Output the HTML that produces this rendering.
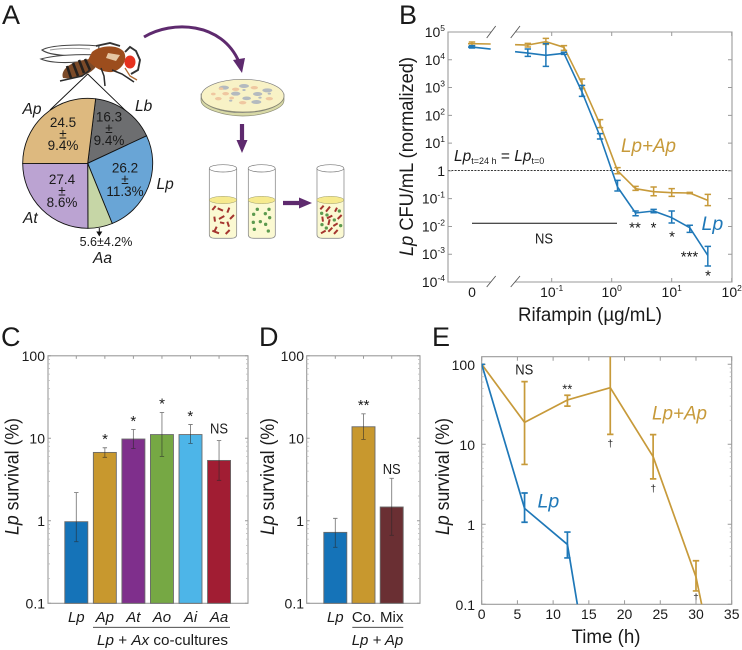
<!DOCTYPE html>
<html lang="en">
<head>
<meta charset="utf-8">
<title>Lp survival figure</title>
<style>
html,body{margin:0;padding:0;background:#fff;width:742px;height:650px;overflow:hidden}
svg{display:block}
text{font-family:"Liberation Sans",sans-serif;fill:#1a1a1a}
.i{font-style:italic}
</style>
</head>
<body>
<svg id="fig" width="742" height="650" viewBox="0 0 742 650" xmlns="http://www.w3.org/2000/svg">
<defs>
<clipPath id="clipE"><rect x="481.7" y="356.7" width="250" height="247.6"/></clipPath>
</defs>

<!-- panel letters -->
<text x="2" y="24" font-size="27">A</text>
<text x="399" y="24" font-size="27">B</text>
<text x="1" y="346" font-size="27">C</text>
<text x="259" y="346" font-size="27">D</text>
<text x="432" y="346" font-size="27">E</text>

<!-- Panel A illustration -->
<g id="panelA">
  <g>
    <path d="M42 50C50 45 80 44 99 46L98 54C75 57 50 56 42 50Z" fill="#fff" stroke="#444" stroke-width="1.1"/>
    <path d="M50 50C62 48 76 48 90 49" fill="none" stroke="#999" stroke-width="1"/>
    <path d="M41 59C55 55 80 54 97 55L92 60C70 64 50 63 41 59Z" fill="#fff" stroke="#444" stroke-width="1.1"/>
    <path d="M63 78C60 70 70 61 90 59L96 66C94 72 78 80 63 78Z" fill="#7b4a28"/>
    <path d="M67 66L71 78M73 63L78 76M79 60L84 73M85 59L90 70" stroke="#26201c" stroke-width="2.6" fill="none"/>
    <path d="M92 52C100 45 118 44 124 52C128 60 122 70 112 72C102 73 92 66 88 60Z" fill="#9c4d1d"/>
    <path d="M108 53L120 55L116 61L106 58Z" fill="#e6c6a2"/>
    <path d="M96 46L110 43L120 46M125 52L130 47L136 51L140 60L138 70L131 74" stroke="#333" stroke-width="1.9" fill="none"/>
    <ellipse cx="130" cy="62" rx="5.5" ry="6.5" fill="#e5321f"/>
    <path d="M101 68L104 76L105 86M90 70L82 76L60 81M112 70L122 74L134 82" stroke="#2a2a2a" stroke-width="1.5" fill="none"/>
    <path d="M125 68L130 76L137 80" stroke="#b06a30" stroke-width="1.3" fill="none"/>
  </g>
  <path d="M87.7 74L50 110" stroke="#111" stroke-width=".9" fill="none"/>
  <path d="M87.7 74L126.7 111.7" stroke="#111" stroke-width=".9" fill="none"/>
  <g id="pieGroup"></g>

  <g font-size="13.5" text-anchor="middle">
    <text x="109" y="121.5">16.3</text>
    <text x="109" y="133">±</text>
    <text x="109" y="145">9.4%</text>
    <text x="63" y="127">24.5</text>
    <text x="63" y="138.5">±</text>
    <text x="63" y="150">9.4%</text>
    <text x="125" y="172.5">26.2</text>
    <text x="125" y="184">±</text>
    <text x="125" y="196">11.3%</text>
    <text x="62" y="184">27.4</text>
    <text x="62" y="195.5">±</text>
    <text x="62" y="207">8.6%</text>
    <text x="106" y="246" font-size="12.5">5.6±4.2%</text>
  </g>
  <g class="i" font-size="15.5" font-style="italic">
    <text x="22.5" y="114">Ap</text>
    <text x="135" y="111">Lb</text>
    <text x="156.5" y="189">Lp</text>
    <text x="23" y="223">At</text>
    <text x="93" y="263">Aa</text>
  </g>
  <path d="M99.3 228V233" stroke="#111" stroke-width="1"/>
  <path d="M96.3 231.5H102.3L99.3 236.5Z" fill="#111"/>

  <!-- arrows -->
  <g>
    <path d="M144 37C172 20 222 22 239 62" fill="none" stroke="#5e2a6e" stroke-width="3"/>
    <path d="M233 60L245 58L242 73Z" fill="#5e2a6e"/>
    <path d="M242 124V143" stroke="#5e2a6e" stroke-width="4.2" fill="none"/>
    <path d="M236.5 140H247.5L242 153Z" fill="#5e2a6e"/>
    <path d="M283 203H302" stroke="#5e2a6e" stroke-width="4.2" fill="none"/>
    <path d="M299 197.5V208.5L312 203Z" fill="#5e2a6e"/>
  </g>

  <!-- dish -->
  <g transform="translate(195 70) scale(.3333)">
    <path d="M18 72V92C20 118 90 138 143 138C200 138 266 118 267 92V72Z" fill="#d8d9a6" stroke="#8a8a72" stroke-width="2"/>
    <ellipse cx="143" cy="78" rx="124" ry="50" fill="#f8f2c6" stroke="#7c7c7c" stroke-width="2"/>
    <path d="M18 84C30 112 90 126 143 126C200 126 255 112 267 84" fill="none" stroke="#8a8a72" stroke-width="2"/>
    <g fill="#b4babf">
      <ellipse cx="87" cy="53" rx="15" ry="6"/>
      <ellipse cx="147" cy="48" rx="15" ry="6"/>
      <ellipse cx="217" cy="61" rx="15" ry="6"/>
      <ellipse cx="122" cy="71" rx="14" ry="6"/>
      <ellipse cx="188" cy="72" rx="14" ry="6"/>
      <ellipse cx="155" cy="85" rx="13" ry="5.5"/>
      <ellipse cx="184" cy="96" rx="15" ry="6"/>
      <ellipse cx="147" cy="60" rx="5" ry="3"/>
      <ellipse cx="195" cy="83" rx="5" ry="3"/>
      <ellipse cx="107" cy="92" rx="5" ry="3"/>
      <ellipse cx="223" cy="71" rx="5" ry="3"/>
    </g>
    <g fill="#efc7a0">
      <ellipse cx="78" cy="56" rx="7" ry="4"/>
      <ellipse cx="122" cy="58" rx="11" ry="5"/>
      <ellipse cx="178" cy="53" rx="11" ry="5"/>
      <ellipse cx="92" cy="71" rx="10" ry="5"/>
      <ellipse cx="55" cy="72" rx="7" ry="4"/>
      <ellipse cx="70" cy="86" rx="10" ry="5"/>
      <ellipse cx="143" cy="98" rx="11" ry="5"/>
      <ellipse cx="223" cy="86" rx="11" ry="5"/>
      <ellipse cx="110" cy="84" rx="7" ry="4"/>
    </g>
  </g>

  <!-- tubes -->
  <g transform="translate(195 70) scale(.3333)">
    <g>
      <path d="M43 392V494C43 503 50 505 60 505H108C118 505 125 503 125 494V392Z" fill="#fbf9d2"/>
      <path d="M43 296V494C43 503 50 505 60 505H108C118 505 125 503 125 494V296" fill="none" stroke="#8e8e8e" stroke-width="2.4"/>
      <ellipse cx="84" cy="295" rx="41" ry="11" fill="#fff" stroke="#777" stroke-width="2"/>
      <ellipse cx="84" cy="390" rx="41" ry="11" fill="#f6ea8e" stroke="#9a9a6a" stroke-width="1.5"/>
      <path d="M52 420L62 408M68 415L84 422M97 428L103 413M105 447L117 435M58 440L60 455M72 447L88 438M75 457L88 460M97 455L102 470M65 470L57 487M52 482L72 490M92 492L104 480" stroke="#a5352f" stroke-width="6" fill="none"/>
    </g>
    <g>
      <path d="M160 392V494C160 503 167 505 177 505H224C234 505 241 503 241 494V392Z" fill="#fbf9d2"/>
      <path d="M160 296V494C160 503 167 505 177 505H224C234 505 241 503 241 494V296" fill="none" stroke="#8e8e8e" stroke-width="2.4"/>
      <ellipse cx="200" cy="295" rx="40.5" ry="11" fill="#fff" stroke="#777" stroke-width="2"/>
      <ellipse cx="200" cy="390" rx="40.5" ry="11" fill="#f6ea8e" stroke="#9a9a6a" stroke-width="1.5"/>
      <g fill="#5c9a4f">
        <circle cx="187" cy="418" r="5"/>
        <circle cx="222" cy="418" r="5"/>
        <circle cx="176" cy="433" r="5"/>
        <circle cx="211" cy="431" r="5"/>
        <circle cx="224" cy="443" r="5"/>
        <circle cx="175" cy="457" r="5"/>
        <circle cx="196" cy="455" r="5"/>
        <circle cx="212" cy="463" r="5"/>
        <circle cx="178" cy="478" r="5"/>
        <circle cx="220" cy="483" r="5"/>
      </g>
    </g>
    <g>
      <path d="M366 392V494C366 503 373 505 383 505H430C440 505 447 503 447 494V392Z" fill="#fbf9d2"/>
      <path d="M366 296V494C366 503 373 505 383 505H430C440 505 447 503 447 494V296" fill="none" stroke="#8e8e8e" stroke-width="2.4"/>
      <ellipse cx="406" cy="295" rx="40.5" ry="11" fill="#fff" stroke="#777" stroke-width="2"/>
      <ellipse cx="406" cy="390" rx="40.5" ry="11" fill="#f6ea8e" stroke="#9a9a6a" stroke-width="1.5"/>
      <path d="M376 418L386 407M393 425L405 410M420 425L426 413M428 447L440 435M382 440L384 455M396 445L412 437M404 448L400 465M415 468L428 460M400 485L412 473M378 490L392 482M417 492L428 480" stroke="#a5352f" stroke-width="6" fill="none"/>
      <g fill="#5c9a4f">
        <circle cx="380" cy="430" r="5"/>
        <circle cx="396" cy="435" r="5"/>
        <circle cx="418" cy="450" r="5"/>
        <circle cx="433" cy="423" r="5"/>
        <circle cx="381" cy="464" r="5"/>
        <circle cx="394" cy="474" r="5"/>
        <circle cx="437" cy="467" r="5"/>
      </g>
    </g>
  </g>
</g>

<!-- Panel B frame -->
<g id="panelB">
  <path d="M491 32H448V282H491" fill="none" stroke="#9a9a9a" stroke-width="1.1"/>
  <path d="M515 32H732V282H515" fill="none" stroke="#9a9a9a" stroke-width="1.1"/>
  <path d="M486.7 38L495.7 26M510.7 38L520 26" stroke="#555" stroke-width=".9" fill="none"/>
  <path d="M486.7 287L495.7 276M510.7 287L520 276" stroke="#555" stroke-width=".9" fill="none"/>
  <text transform="translate(413 156.5) rotate(-90)" text-anchor="middle" font-size="19" textLength="199" lengthAdjust="spacingAndGlyphs"><tspan font-style="italic">Lp</tspan> CFU/mL (normalized)</text>
  <text x="590" y="321" text-anchor="middle" font-size="19" textLength="144" lengthAdjust="spacingAndGlyphs">Rifampin (µg/mL)</text>
  <path d="M448 170.5H732" stroke="#333" stroke-width=".9" stroke-dasharray="2 1.3" fill="none"/>
  <text x="454" y="161" font-size="15.5"><tspan font-style="italic">Lp</tspan><tspan font-size="9" dy="3">t=24 h</tspan><tspan dy="-3"> = </tspan><tspan font-style="italic">Lp</tspan><tspan font-size="9" dy="3">t=0</tspan></text>
  <text x="621" y="152" font-size="19.5" font-style="italic" style="fill:#c79a3a" textLength="55" lengthAdjust="spacingAndGlyphs">Lp+Ap</text>
  <text x="701.5" y="230" font-size="19.5" font-style="italic" style="fill:#1f78b8">Lp</text>
  <path d="M472 223.3H617" stroke="#111" stroke-width="1" fill="none"/>
  <text x="544" y="243.5" text-anchor="middle" font-size="15" textLength="18" lengthAdjust="spacingAndGlyphs">NS</text>
  <g text-anchor="middle" font-size="15">
    <text x="635" y="232.5">**</text>
    <text x="653.5" y="232.5">*</text>
    <text x="672" y="241.5">*</text>
    <text x="689.5" y="261.5">***</text>
    <text x="708" y="280.5">*</text>
  </g>
</g>

<!-- Panel C static text -->
<g id="panelC">
  <text transform="translate(18.5 476.5) rotate(-90)" text-anchor="middle" font-size="19" textLength="117" lengthAdjust="spacingAndGlyphs"><tspan font-style="italic">Lp</tspan> survival (%)</text>
  <path d="M93 627.3H230" stroke="#333" stroke-width=".9" fill="none"/>
  <text x="162.5" y="645" text-anchor="middle" font-size="15" textLength="131" lengthAdjust="spacingAndGlyphs"><tspan font-style="italic">Lp</tspan> + <tspan font-style="italic">Ax</tspan> co-cultures</text>
  <g text-anchor="middle" font-size="15">
    <text x="105" y="444">*</text>
    <text x="133.3" y="426">*</text>
    <text x="162" y="408.5">*</text>
    <text x="190.3" y="421">*</text>
    <text x="219" y="433.5" textLength="18" lengthAdjust="spacingAndGlyphs">NS</text>
  </g>
</g>

<!-- Panel D static text -->
<g id="panelD">
  <text transform="translate(274 476.5) rotate(-90)" text-anchor="middle" font-size="19" textLength="117" lengthAdjust="spacingAndGlyphs"><tspan font-style="italic">Lp</tspan> survival (%)</text>
  <path d="M352.3 627.3H403.3" stroke="#333" stroke-width=".9" fill="none"/>
  <text x="377.5" y="645" text-anchor="middle" font-size="15" font-style="italic">Lp + Ap</text>
  <text x="363.7" y="410" text-anchor="middle" font-size="15">**</text>
  <text x="391.7" y="474" text-anchor="middle" font-size="15" textLength="18" lengthAdjust="spacingAndGlyphs">NS</text>
</g>

<!-- Panel E static text -->
<g id="panelE">
  <text transform="translate(449 476.5) rotate(-90)" text-anchor="middle" font-size="19" textLength="117" lengthAdjust="spacingAndGlyphs"><tspan font-style="italic">Lp</tspan> survival (%)</text>
  <text x="606" y="643" text-anchor="middle" font-size="19" textLength="69" lengthAdjust="spacingAndGlyphs">Time (h)</text>
  <text x="652" y="419.5" font-size="19.5" font-style="italic" style="fill:#c79a3a" textLength="55" lengthAdjust="spacingAndGlyphs">Lp+Ap</text>
  <text x="537.5" y="507.5" font-size="19.5" font-style="italic" style="fill:#1f78b8">Lp</text>
  <text x="524.3" y="374.5" text-anchor="middle" font-size="15" textLength="18" lengthAdjust="spacingAndGlyphs">NS</text>
  <text x="567.3" y="393.5" text-anchor="middle" font-size="13">**</text>
  <text x="610.3" y="447" text-anchor="middle" font-size="10">†</text>
  <text x="653.3" y="492" text-anchor="middle" font-size="10">†</text>
  <text x="696" y="601" text-anchor="middle" font-size="10">†</text>
</g>

<script>
// ---- Panel A data: slice sizes as drawn (percent of circle)
const pieCategories = ['Lb', 'Lp', 'Aa', 'At', 'Ap'];
const pieShares = [16.1, 25.8, 6.1, 25.0, 27.0];

// ---- Panel B data
const bDoses = [0.04, 0.08, 0.16, 0.32, 0.64, 1.25, 2.5, 5, 10, 20, 40];
const bApValues = [34000, 44900, 28100, 1380, 47.4, 1.02, 0.229, 0.179, 0.164, 0.16, 0.087];
const bApHi = [39100, 59200, 32200, 2030, 69.8, 1.31, 0.278, 0.263, 0.229, 0.168, 0.143];
const bApLo = [28900, 36000, 21900, 912, 36, 0.79, 0.2, 0.128, 0.121, 0.152, 0.056];
const bLpValues = [17500, 14500, 17100, 692, 17.5, 0.263, 0.0305, 0.036, 0.0207, 0.00904, 0.00091];
const bLpHi = [24400, 38000, 18700, 1200, 21.9, 0.457, 0.036, 0.0413, 0.036, 0.011, 0.00192];
const bLpLo = [13300, 5800, 15700, 483, 14.1, 0.189, 0.0244, 0.0313, 0.0133, 0.00614, 0.000377];
const bLeadDose = 0.0245;
const bApLead = 35000;
const bLpLead = 19600;
const bApZero = [38000, 43700, 31300, 37000]; // value, hi, lo, value at axis break
const bLpZero = [28800, 32200, 26500, 24400];
const bYTickExponents = [5, 4, 3, 2, 1, 0, -1, -2, -3, -4];
const bXTickExponents = [-1, 0, 1, 2];

// ---- Panel C data
const cCategories = ['Lp', 'Ap', 'At', 'Ao', 'Ai', 'Aa'];
const cValues = [0.975, 6.74, 9.8, 11.1, 11.1, 5.39];
const cHi = [2.2, 7.68, 12.8, 20.6, 14.7, 9.4];
const cLo = [0.558, 5.87, 7.5, 6.03, 8.67, 3.09];

// ---- Panel D data
const dCategories = ['Lp', 'Co.', 'Mix'];
const dValues = [0.724, 13.8, 1.47];
const dHi = [1.07, 19.8, 3.27];
const dLo = [0.477, 9.7, 0.667];

// ---- log axis ticks shared by C, D, E
const survivalTicks = [0.1, 1, 10, 100];
const survivalTickLabels = ['0.1', '1', '10', '100'];

// ---- Panel E data
const eApHours = [0, 6, 12, 18, 24, 30, 32];
const eApValues = [100, 18.8, 35.8, 51, 7, 0.22, 0.03];
const eApErrHours = [0, 6, 12, 18, 24, 30];
const eApHi = [100, 60.7, 41, 200, 13.2, 0.35];
const eApLo = [100, 5.6, 30, 13.3, 3.7, 0.147];
const eLpHours = [0, 6, 12, 14];
const eLpValues = [100, 1.58, 0.56, 0.047];
const eLpErrHours = [0, 6, 12];
const eLpHi = [100, 2.46, 0.8];
const eLpLo = [100, 1.06, 0.38];
const eXTicks = [0, 5, 10, 15, 20, 25, 30, 35];

const NS = 'http://www.w3.org/2000/svg';
const GOLD = '#c79a3a';
const BLUE = '#1f78b8';
const AXIS = '#9a9a9a';

function mk(tag, attrs, parent, txt) {
  const n = document.createElementNS(NS, tag);
  for (const k in attrs) n.setAttribute(k, attrs[k]);
  if (txt !== undefined) n.textContent = txt;
  parent.appendChild(n);
  return n;
}

function errorBar(parent, x, yHi, yLo, cap, color, width) {
  const d = 'M' + x + ' ' + yHi + 'V' + yLo + 'M' + (x - cap) + ' ' + yHi + 'H' + (x + cap) + 'M' + (x - cap) + ' ' + yLo + 'H' + (x + cap);
  const e = mk('path', { d: d, stroke: color, 'stroke-width': width, fill: 'none' }, parent);
  
  
  return e;
}

function polyline(parent, pts, color, width) {
  const l = mk('polyline', { points: pts.map(function (p) { return p[0] + ',' + p[1]; }).join(' '), fill: 'none', stroke: color, 'stroke-width': width, 'stroke-linejoin': 'round' }, parent);
  
  
  return l;
}

// ---------- Pie ----------
(function () {
  const g = document.getElementById('pieGroup');
  const cx = 87.7, cy = 163.3, r = 65;
  const fills = { Lb: '#6d6e70', Lp: '#69a5d6', Aa: '#c6d6a6', At: '#bba3d2', Ap: '#ddb97f' };
  const total = pieShares.reduce(function (a, b) { return a + b; }, 0);
  let ang = 7;
  pieCategories.forEach(function (c, i) {
    const sweep = pieShares[i] / total * 360;
    const a0 = ang * Math.PI / 180, a1 = (ang + sweep) * Math.PI / 180;
    const d = 'M' + cx + ' ' + cy + 'L' + (cx + r * Math.sin(a0)) + ' ' + (cy - r * Math.cos(a0)) +
      'A' + r + ' ' + r + ' 0 ' + (sweep > 180 ? 1 : 0) + ' 1 ' + (cx + r * Math.sin(a1)) + ' ' + (cy - r * Math.cos(a1)) + 'Z';
    const s = mk('path', { d: d, fill: fills[c], stroke: '#111', 'stroke-width': 0.9 }, g);
    
    
    ang += sweep;
  });
})();

// ---------- Panel B ----------
(function () {
  const g = document.getElementById('panelB');
  const bX = function (d) { return 611.7 + 60 * Math.log10(d); };
  const bYexp = function (e) { return 32 + (5 - e) * 27.78; };
  const bY = function (v) { return bYexp(Math.log10(v)); };
  const zeroX = 472, stubEnd = 490.7;

  bYTickExponents.forEach(function (e) {
    const y = bYexp(e);
    const t = mk('path', { d: 'M448 ' + y + 'h4M732 ' + y + 'h-4', stroke: AXIS, 'stroke-width': 1, fill: 'none' }, g);
    
    
    const lab = mk('text', { x: 445, y: y + 5, 'text-anchor': 'end', 'font-size': 14 }, g);
    
    
    if (e === 0) {
      lab.textContent = '1';
    } else {
      mk('tspan', {}, lab, '10');
      mk('tspan', { 'font-size': 8.5, dy: -6 }, lab, String(e));
    }
  });
  bXTickExponents.forEach(function (e) {
    const x = bX(Math.pow(10, e));
    const t = mk('path', { d: 'M' + x + ' 282v-4M' + x + ' 32v4', stroke: AXIS, 'stroke-width': 1, fill: 'none' }, g);
    
    
    const lab = mk('text', { x: x, y: 297, 'text-anchor': 'middle', 'font-size': 14 }, g);
    
    
    mk('tspan', {}, lab, '10');
    mk('tspan', { 'font-size': 8.5, dy: -6 }, lab, String(e));
  });
  const zeroLab = mk('text', { x: zeroX, y: 297, 'text-anchor': 'middle', 'font-size': 14 }, g, '0');
  
  

  [[bApValues, bApHi, bApLo, bApLead, bApZero, GOLD], [bLpValues, bLpHi, bLpLo, bLpLead, bLpZero, BLUE]].forEach(function (s) {
    const pts = [[bX(bLeadDose), bY(s[3])]].concat(bDoses.map(function (d, i) { return [bX(d), bY(s[0][i])]; }));
    polyline(g, pts, s[5], 1.6);
    bDoses.forEach(function (d, i) { errorBar(g, bX(d), bY(s[1][i]), bY(s[2][i]), 3.2, s[5], 1.5); });
    polyline(g, [[zeroX - 4, bY(s[4][0])], [zeroX, bY(s[4][0])], [stubEnd, bY(s[4][3])]], s[5], 1.6);
    errorBar(g, zeroX, bY(s[4][1]), bY(s[4][2]), 3.2, s[5], 1.5);
  });
})();

// ---------- Bar panels ----------
function barPanel(gid, left, right, firstCenter, step, cats, vals, hi, lo, fills, labelRight) {
  const g = document.getElementById(gid);
  const top = 355.8, bottom = 603.3, dec = (bottom - top) / 3;
  const y = function (v) { return bottom - (Math.log10(v) + 1) * dec; };
  const frame = mk('rect', { x: left, y: top, width: right - left, height: bottom - top, fill: 'none', stroke: AXIS, 'stroke-width': 1.1 }, g);
  
  
  survivalTicks.forEach(function (t, i) {
    const ty = y(t);
    const tk = mk('path', { d: 'M' + left + ' ' + ty + 'h3M' + right + ' ' + ty + 'h-3', stroke: AXIS, 'stroke-width': 1, fill: 'none' }, g);
    
    
    const lab = mk('text', { x: labelRight, y: ty + 5, 'text-anchor': 'end', 'font-size': 14 }, g, survivalTickLabels[i]);
    
    
    if (t < 100) {
      for (let m = 2; m < 10; m++) {
        const my = y(t * m);
        const mn = mk('path', { d: 'M' + left + ' ' + my + 'h2M' + right + ' ' + my + 'h-2', stroke: '#bdbdbd', 'stroke-width': 0.8, fill: 'none' }, g);
        
        
      }
    }
  });
  cats.forEach(function (c, i) {
    const cx = firstCenter + i * step;
    const b = mk('rect', { x: cx - 11.5, y: y(vals[i]), width: 23, height: bottom - y(vals[i]), fill: fills[c], stroke: '#6a6a6a', 'stroke-width': 0.9 }, g);
    
    
    errorBar(g, cx, y(hi[i]), y(lo[i]), 2.2, 'rgba(40,40,40,.6)', 0.9);
    const tt = mk('path', { d: 'M' + cx + ' ' + top + 'v3', stroke: AXIS, 'stroke-width': 1, fill: 'none' }, g);
    
    
    const isItalic = c === 'Lp' || c.charAt(0) === 'A';
    const lab = mk('text', { x: cx, y: 622, 'text-anchor': 'middle', 'font-size': 15, 'font-style': isItalic ? 'italic' : 'normal' }, g, c);
    
    
  });
}
barPanel('panelC', 48, 248, 76.3, 28.55, cCategories, cValues, cHi, cLo,
  { Lp: '#1573b8', Ap: '#c8982e', At: '#7f2f8c', Ao: '#76a844', Ai: '#4db5e8', Aa: '#a11d33' }, 45);
barPanel('panelD', 306.7, 420, 335.3, 28.2, dCategories, dValues, dHi, dLo,
  { Lp: '#1573b8', 'Co.': '#c8982e', Mix: '#6a2f33' }, 304);

// ---------- Panel E ----------
(function () {
  const g = document.getElementById('panelE');
  const left = 481.7, right = 731.7, top = 356.7, bottom = 604.3;
  const x = function (h) { return left + h * 250 / 35; };
  const y = function (v) { return bottom - (Math.log10(v) + 1) * 80; };
  const frame = mk('rect', { x: left, y: top, width: right - left, height: bottom - top, fill: 'none', stroke: AXIS, 'stroke-width': 1.1 }, g);
  
  
  survivalTicks.forEach(function (t, i) {
    const ty = y(t);
    const tk = mk('path', { d: 'M' + left + ' ' + ty + 'h4M' + right + ' ' + ty + 'h-4', stroke: AXIS, 'stroke-width': 1, fill: 'none' }, g);
    
    
    const lab = mk('text', { x: 475, y: ty + 5.5, 'text-anchor': 'end', 'font-size': 14 }, g, survivalTickLabels[i]);
    
    
    if (t < 100) {
      for (let m = 2; m < 10; m++) {
        const my = y(t * m);
        const mn = mk('path', { d: 'M' + left + ' ' + my + 'h2M' + right + ' ' + my + 'h-2', stroke: '#bdbdbd', 'stroke-width': 0.8, fill: 'none' }, g);
        
        
      }
    }
  });
  eXTicks.forEach(function (h) {
    const tx = x(h);
    const tk = mk('path', { d: 'M' + tx + ' ' + bottom + 'v-4M' + tx + ' ' + top + 'v4', stroke: AXIS, 'stroke-width': 1, fill: 'none' }, g);
    
    
    const lab = mk('text', { x: tx, y: 619, 'text-anchor': 'middle', 'font-size': 14 }, g, String(h));
    
    
  });
  const clip = mk('g', { 'clip-path': 'url(#clipE)' }, g);
  
  
  polyline(clip, eApHours.map(function (h, i) { return [x(h), y(eApValues[i])]; }), GOLD, 1.7);
  eApErrHours.forEach(function (h, i) { errorBar(clip, x(h), y(eApHi[i]), y(eApLo[i]), 3.2, GOLD, 1.7); });
  polyline(clip, eLpHours.map(function (h, i) { return [x(h), y(eLpValues[i])]; }), BLUE, 1.7);
  eLpErrHours.forEach(function (h, i) { errorBar(clip, x(h), y(eLpHi[i]), y(eLpLo[i]), 3.2, BLUE, 1.7); });
})();
</script>
</svg>
</body>
</html>
